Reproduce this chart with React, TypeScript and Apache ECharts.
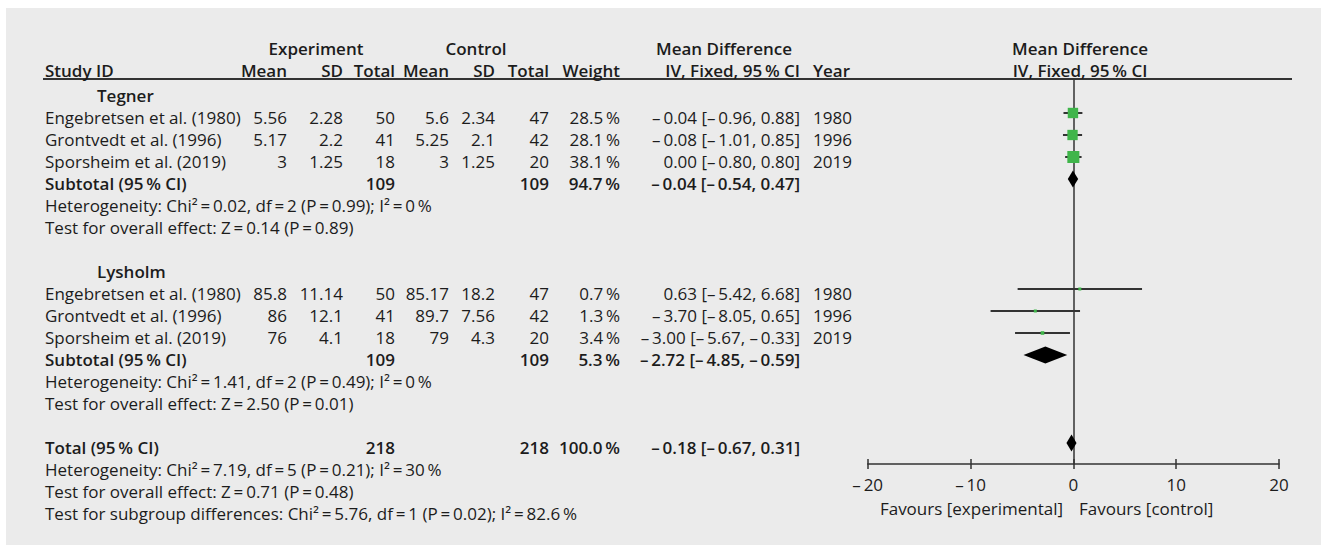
import React, { useEffect, useRef } from "react";
import * as echarts from "echarts";

// ---------- data ----------
const studies = ["Engebretsen et al. (1980)", "Grontvedt et al. (1996)", "Sporsheim et al. (2019)"];
const years = [1980, 1996, 2019];
const groupNames = ["Tegner", "Lysholm"];

const tegExpMean = [5.56, 5.17, 3];
const tegExpSD = [2.28, 2.2, 1.25];
const tegExpN = [50, 41, 18];
const tegCtrlMean = [5.6, 5.25, 3];
const tegCtrlSD = [2.34, 2.1, 1.25];
const tegCtrlN = [47, 42, 20];
const tegWeight = [28.5, 28.1, 38.1];
const tegMD = [-0.04, -0.08, 0.0];
const tegLo = [-0.96, -1.01, -0.8];
const tegHi = [0.88, 0.85, 0.8];

const lysExpMean = [85.8, 86, 76];
const lysExpSD = [11.14, 12.1, 4.1];
const lysExpN = [50, 41, 18];
const lysCtrlMean = [85.17, 89.7, 79];
const lysCtrlSD = [18.2, 7.56, 4.3];
const lysCtrlN = [47, 42, 20];
const lysWeight = [0.7, 1.3, 3.4];
const lysMD = [0.63, -3.7, -3.0];
const lysLo = [-5.42, -8.05, -5.67];
const lysHi = [6.68, 0.65, -0.33];

// pooled: Tegner subtotal, Lysholm subtotal, Total
const pooledExpN = [109, 109, 218];
const pooledCtrlN = [109, 109, 218];
const pooledWeight = [94.7, 5.3, 100.0];
const pooledMD = [-0.04, -2.72, -0.18];
const pooledLo = [-0.54, -4.85, -0.67];
const pooledHi = [0.47, -0.59, 0.31];

const hetChi = [0.02, 1.41, 7.19];
const hetDf = [2, 2, 5];
const hetP = [0.99, 0.49, 0.21];
const hetI2 = [0, 0, 30];
const effZ = [0.14, 2.5, 0.71];
const effP = [0.89, 0.01, 0.48];
const subgroupStats = { chi: 5.76, df: 1, p: 0.02, i2: 82.6 };

const xMin = -20;
const xMax = 20;
const xInterval = 10;

// ---------- layout ----------
const W = 1327;
const H = 547;
const FONT = "'Open Sans', 'Noto Sans', sans-serif";
const FS = 17;
const BOLD = 600;
const TXT = "#1c1c1c";
const GREEN = "#3fb54a";

const TS = "\u2009";
const DASH = "\u2013" + TS;
const fmtNeg = (v: number, d: number) => (v < 0 ? DASH + Math.abs(v).toFixed(d) : v.toFixed(d));
const fmtCI = (m: number, l: number, h: number) => `${fmtNeg(m, 2)} [${fmtNeg(l, 2)}, ${fmtNeg(h, 2)}]`;
const fmtW = (w: number) => `${w.toFixed(1)}${TS}%`;
const eq = `${TS}=${TS}`;

// column anchors (pixels)
const COL = {
  name: 45,
  group: 97,
  expMean: 287,
  expSD: 343,
  expN: 395,
  ctrlMean: 449,
  ctrlSD: 495,
  ctrlN: 549,
  weight: 620,
  ci: 800,
  year: 813,
};

type Cell = { x: number; align: string; text: string; bold?: boolean };
type Row = { row: number; cells: Cell[] };

function buildRows(): Row[] {
  const rows: Row[] = [];
  rows.push({
    row: -2.136,
    cells: [
      { x: 316, align: "center", text: "Experiment", bold: true },
      { x: 476, align: "center", text: "Control", bold: true },
      { x: 724, align: "center", text: "Mean Difference", bold: true },
      { x: 1080, align: "center", text: "Mean Difference", bold: true },
    ],
  });
  rows.push({
    row: -1.136,
    cells: [
      { x: COL.name, align: "left", text: "Study ID", bold: true },
      { x: COL.expMean, align: "right", text: "Mean", bold: true },
      { x: COL.expSD, align: "right", text: "SD", bold: true },
      { x: COL.expN, align: "right", text: "Total", bold: true },
      { x: COL.ctrlMean, align: "right", text: "Mean", bold: true },
      { x: COL.ctrlSD, align: "right", text: "SD", bold: true },
      { x: COL.ctrlN, align: "right", text: "Total", bold: true },
      { x: COL.weight, align: "right", text: "Weight", bold: true },
      { x: COL.ci, align: "right", text: `IV, Fixed, 95${TS}% CI`, bold: true },
      { x: COL.year, align: "left", text: "Year", bold: true },
      { x: 1080, align: "center", text: `IV, Fixed, 95${TS}% CI`, bold: true },
    ],
  });
  const groups = [
    { em: tegExpMean, es: tegExpSD, en: tegExpN, cm: tegCtrlMean, cs: tegCtrlSD, cn: tegCtrlN, w: tegWeight, md: tegMD, lo: tegLo, hi: tegHi },
    { em: lysExpMean, es: lysExpSD, en: lysExpN, cm: lysCtrlMean, cs: lysCtrlSD, cn: lysCtrlN, w: lysWeight, md: lysMD, lo: lysLo, hi: lysHi },
  ];
  groups.forEach((g, gi) => {
    const base = gi * 8;
    rows.push({ row: base, cells: [{ x: COL.group, align: "left", text: groupNames[gi], bold: true }] });
    studies.forEach((s, i) => {
      rows.push({
        row: base + 1 + i,
        cells: [
          { x: COL.name, align: "left", text: s },
          { x: COL.expMean, align: "right", text: String(g.em[i]) },
          { x: COL.expSD, align: "right", text: String(g.es[i]) },
          { x: COL.expN, align: "right", text: String(g.en[i]) },
          { x: COL.ctrlMean, align: "right", text: String(g.cm[i]) },
          { x: COL.ctrlSD, align: "right", text: String(g.cs[i]) },
          { x: COL.ctrlN, align: "right", text: String(g.cn[i]) },
          { x: COL.weight, align: "right", text: fmtW(g.w[i]) },
          { x: COL.ci, align: "right", text: fmtCI(g.md[i], g.lo[i], g.hi[i]) },
          { x: COL.year, align: "left", text: String(years[i]) },
        ],
      });
    });
  });
  const pooledRows = [4, 12, 16];
  const pooledLabels = [`Subtotal (95${TS}% CI)`, `Subtotal (95${TS}% CI)`, `Total (95${TS}% CI)`];
  pooledRows.forEach((r, i) => {
    rows.push({
      row: r,
      cells: [
        { x: COL.name, align: "left", text: pooledLabels[i], bold: true },
        { x: COL.expN, align: "right", text: String(pooledExpN[i]), bold: true },
        { x: COL.ctrlN, align: "right", text: String(pooledCtrlN[i]), bold: true },
        { x: COL.weight, align: "right", text: fmtW(pooledWeight[i]), bold: true },
        { x: COL.ci, align: "right", text: fmtCI(pooledMD[i], pooledLo[i], pooledHi[i]), bold: true },
      ],
    });
    rows.push({
      row: r + 1,
      cells: [
        {
          x: COL.name,
          align: "left",
          text: `Heterogeneity: Chi\u00b2${eq}${hetChi[i].toFixed(2)}, df${eq}${hetDf[i]} (P${eq}${hetP[i].toFixed(2)}); I\u00b2${eq}${hetI2[i]}${TS}%`,
        },
      ],
    });
    rows.push({
      row: r + 2,
      cells: [
        { x: COL.name, align: "left", text: `Test for overall effect: Z${eq}${effZ[i].toFixed(2)} (P${eq}${effP[i].toFixed(2)})` },
      ],
    });
  });
  rows.push({
    row: 19,
    cells: [
      {
        x: COL.name,
        align: "left",
        text: `Test for subgroup differences: Chi\u00b2${eq}${subgroupStats.chi.toFixed(2)}, df${eq}${subgroupStats.df} (P${eq}${subgroupStats.p.toFixed(2)}); I\u00b2${eq}${subgroupStats.i2}${TS}%`,
      },
    ],
  });
  return rows;
}

type ForestItem = { kind: "study" | "diamond"; md: number; lo: number; hi: number; row: number; w: number };

function buildForest(): ForestItem[] {
  const out: ForestItem[] = [];
  tegMD.forEach((m, i) => out.push({ kind: "study", md: m, lo: tegLo[i], hi: tegHi[i], row: 1 + i, w: tegWeight[i] }));
  lysMD.forEach((m, i) => out.push({ kind: "study", md: m, lo: lysLo[i], hi: lysHi[i], row: 9 + i, w: lysWeight[i] }));
  [4, 12, 16].forEach((r, i) =>
    out.push({ kind: "diamond", md: pooledMD[i], lo: pooledLo[i], hi: pooledHi[i], row: r, w: pooledWeight[i] })
  );
  return out;
}

export default function App() {
  const ref = useRef<HTMLDivElement>(null);
  useEffect(() => {
    if (!ref.current) return;
    const chart = echarts.init(ref.current, undefined, { renderer: "svg" });
    const tableRows = buildRows();
    const forest = buildForest();

    // forest grid: pixel y = 91 + 22*row ; grid spans y 79..464
    const fTop = 79;
    const fBottom = 464;
    const fRowMin = (fTop - 91) / 22;
    const fRowMax = (fBottom - 91) / 22;
    const fLeft = 867.7;
    const fRight = 1279;

    // table grid: pixel y = 95 + 22*row ; spans 40..535
    const tTop = 40;
    const tBottom = 535;
    const tRowMin = (tTop - 95) / 22;
    const tRowMax = (tBottom - 95) / 22;

    const axisLabelFmt = (v: number) => (v < 0 ? DASH + Math.abs(v) : String(v));

    const option: any = {
      animation: false,
      backgroundColor: "#ffffff",
      textStyle: { fontFamily: FONT },
      grid: [
        { left: fLeft, width: fRight - fLeft, top: fTop, height: fBottom - fTop },
        { left: 0, width: W, top: tTop, height: tBottom - tTop },
      ],
      xAxis: [
        {
          type: "value",
          gridIndex: 0,
          min: xMin,
          max: xMax,
          interval: xInterval,
          position: "bottom",
          axisLine: { show: true, onZero: false, lineStyle: { color: "#333", width: 1.5 } },
          axisTick: { show: true, inside: false, length: 5, lineStyle: { color: "#333", width: 1.5 } },
          axisLabel: { show: true, margin: 12, color: TXT, fontSize: FS, fontFamily: FONT, formatter: axisLabelFmt },
          splitLine: { show: false },
        },
        {
          type: "value",
          gridIndex: 0,
          min: xMin,
          max: xMax,
          interval: xInterval,
          position: "bottom",
          offset: 0,
          axisLine: { show: false, onZero: false },
          axisTick: { show: true, inside: true, length: 5, lineStyle: { color: "#333", width: 1.5 } },
          axisLabel: { show: false },
          splitLine: { show: false },
        },
        {
          type: "value",
          gridIndex: 1,
          min: 0,
          max: W,
          show: false,
        },
      ],
      yAxis: [
        {
          type: "value",
          gridIndex: 0,
          inverse: true,
          min: fRowMin,
          max: fRowMax,
          axisLine: { show: true, onZero: true, onZeroAxisIndex: 0, lineStyle: { color: "#333", width: 1.5 } },
          axisTick: { show: false },
          axisLabel: { show: false },
          splitLine: { show: false },
        },
        {
          type: "value",
          gridIndex: 1,
          inverse: true,
          min: tRowMin,
          max: tRowMax,
          show: false,
        },
      ],
      graphic: [
        {
          type: "rect",
          z: -10,
          silent: true,
          shape: { x: 6, y: 8, width: 1315, height: 537 },
          style: { fill: "#ebebeb" },
        },
        {
          type: "line",
          silent: true,
          shape: { x1: 43, y1: 79, x2: 1292, y2: 79 },
          style: { stroke: "#333", lineWidth: 2 },
        },
        {
          type: "text",
          x: 1063,
          y: 508,
          style: { text: "Favours [experimental]", align: "right", verticalAlign: "middle", fontSize: FS, fontFamily: FONT, fill: TXT },
        },
        {
          type: "text",
          x: 1079,
          y: 508,
          style: { text: "Favours [control]", align: "left", verticalAlign: "middle", fontSize: FS, fontFamily: FONT, fill: TXT },
        },
      ],
      series: [
        {
          type: "custom",
          xAxisIndex: 2,
          yAxisIndex: 1,
          clip: false,
          silent: true,
          data: tableRows.map((r) => [0, r.row]),
          renderItem: (params: any, api: any) => {
            const r = tableRows[params.dataIndex];
            const y = api.coord([0, r.row])[1];
            return {
              type: "group",
              children: r.cells.map((c) => ({
                type: "text",
                x: api.coord([c.x, r.row])[0],
                y,
                style: {
                  text: c.text,
                  align: c.align,
                  verticalAlign: "middle",
                  fontSize: FS,
                  fontFamily: FONT,
                  fontWeight: c.bold ? BOLD : "normal",
                  fill: TXT,
                },
              })),
            };
          },
        },
        {
          type: "custom",
          xAxisIndex: 0,
          yAxisIndex: 0,
          clip: false,
          silent: true,
          data: forest.map((d) => [d.md, d.row]),
          renderItem: (params: any, api: any) => {
            const d = forest[params.dataIndex];
            const c = api.coord([d.md, d.row]);
            const l = api.coord([d.lo, d.row]);
            const h = api.coord([d.hi, d.row]);
            if (d.kind === "study") {
              const s = Math.max(3, 1.95 * Math.sqrt(d.w));
              return {
                type: "group",
                children: [
                  { type: "line", shape: { x1: l[0], y1: c[1], x2: h[0], y2: c[1] }, style: { stroke: "#333", lineWidth: 2 } },
                  { type: "rect", shape: { x: c[0] - s / 2, y: c[1] - s / 2, width: s, height: s }, style: { fill: GREEN } },
                ],
              };
            }
            const hh = 8.5;
            return {
              type: "polygon",
              shape: { points: [[l[0], c[1]], [c[0], c[1] - hh], [h[0], c[1]], [c[0], c[1] + hh]] },
              style: { fill: "#000" },
            };
          },
        },
      ],
    };
    chart.setOption(option);
    return () => chart.dispose();
  }, []);
  return <div ref={ref} style={{ position: "fixed", left: 0, top: 0, width: W, height: H }} />;
}
